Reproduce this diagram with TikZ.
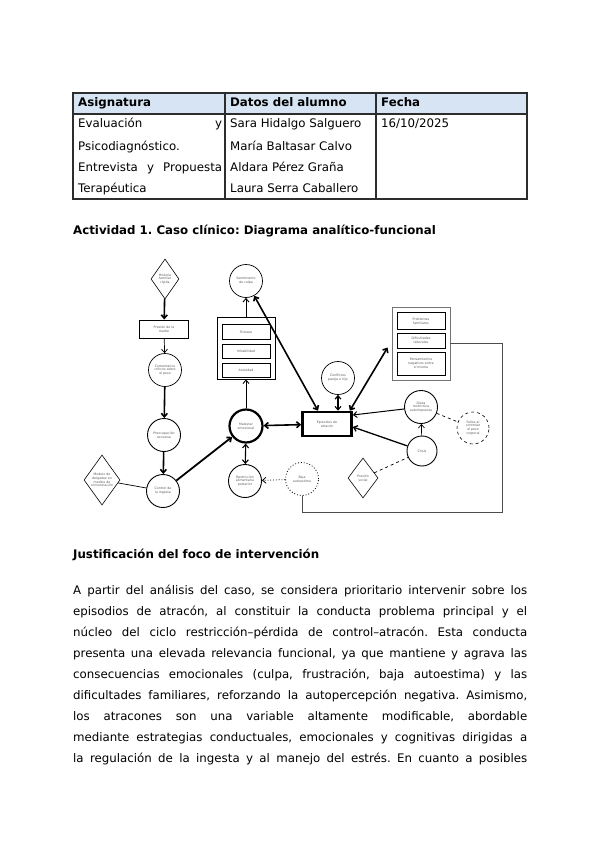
\documentclass[tikz,border=0pt]{standalone}
\usepackage{fontspec}
\setmainfont{DejaVu Sans}
\usetikzlibrary{shapes.geometric,arrows.meta}
\definecolor{cabecera}{RGB}{214,228,243}
\definecolor{borde}{RGB}{45,45,45}
\newcommand\diagfont{\fontsize{3.2}{3.8}\selectfont}
\newcommand\textofont{\fontsize{11.8}{14}\selectfont\frenchspacing}

\begin{document}
\begin{tikzpicture}[x=1pt,y=-1pt,
  tx/.style={font=\diagfont,text=black!65,align=center,inner sep=0pt},
  circulo/.style={circle,draw,line width=0.9pt,minimum size=33pt,tx},
  rombo/.style={diamond,draw,line width=0.6pt,minimum width=28pt,minimum height=40pt,tx},
  caja/.style={rectangle,draw,line width=0.9pt,minimum width=48pt,tx},
  punta/.style={-{Straight Barb[length=3.5pt,width=6pt]}},
  flecha/.style={punta,line width=1.6pt},
  dflecha/.style={{Straight Barb[length=3.5pt,width=6pt]}-{Straight Barb[length=3.5pt,width=6pt]},line width=1.6pt},
  fina/.style={line width=0.7pt},
  linea/.style={anchor=base west,inner sep=0pt,font=\textofont}]
  \useasboundingbox (0,0) rectangle (599,848);
  \fill[white] (0,0) rectangle (599,848);

  \fill[cabecera] (73,93) rectangle (527,114);
  \draw[borde,line width=1.2pt] (73,93) rectangle (527,199) (73,114) -- (527,114) (225,93) -- (225,199) (376,93) -- (376,199);
  \node[linea] (h1) at (78,107) {\bfseries Asignatura};
  \node[linea] (h2) at (230,107) {\bfseries Datos del alumno};
  \node[linea] (h3) at (381,107) {\bfseries Fecha};
  \node[linea] (a1) at (78,128) {\makebox[144pt][s]{Evaluación y}};
  \node[linea] (a2) at (78,150) {Psicodiagnóstico.};
  \node[linea] (a3) at (78,171) {\makebox[144pt][s]{Entrevista y Propuesta}};
  \node[linea] (a4) at (78,192) {Terapéutica};
  \node[linea] (b1) at (230,128) {Sara Hidalgo Salguero};
  \node[linea] (b2) at (230,150) {María Baltasar Calvo};
  \node[linea] (b3) at (230,171) {Aldara Pérez Graña};
  \node[linea] (b4) at (230,192) {Laura Serra Caballero};
  \node[linea] (f1) at (381,128) {16/10/2025};

  \node[linea] (titulo) at (73,234) {\bfseries Actividad 1. Caso clínico: Diagrama analítico-funcional};

  \node[rombo] (d1) at (165,279) {Historia\\familiar\\rígida};
  \node[caja,minimum width=49pt,minimum height=18pt] (r1) at (164,329) {Presión de la\\madre};
  \node[circulo,line width=0.7pt] (c2) at (165,370) {Comentarios\\críticos sobre\\el peso};
  \node[circulo] (c3) at (164,435) {Preocupación\\excesiva};
  \node[circulo] (c4) at (163,491) {Control de\\la ingesta};
  \node[rombo,minimum width=35pt,minimum height=50pt] (d2) at (102,480) {Modelo de\\delgadez en\\medios de\\comunicación};
  \node[circulo,line width=2.2pt] (c5) at (246,426) {Malestar\\emocional};
  \node[draw,line width=0.8pt,minimum width=58pt,minimum height=62pt] (s1) at (246,348) {};
  \node[caja,minimum height=15pt] (s1a) at (246,332) {Tristeza};
  \node[caja,minimum height=14pt] (s1b) at (246,351) {Irritabilidad};
  \node[caja,minimum height=14pt] (s1c) at (246,370) {Ansiedad};
  \node[circulo,line width=0.7pt] (c6) at (246,281) {Sentimiento\\de culpa};
  \node[circulo] (c7) at (245,481) {Restricción\\alimentaria\\posterior};
  \node[circulo,dotted,line width=0.8pt] (c8) at (302,479) {Baja\\autoestima};
  \node[rectangle,draw,line width=2.6pt,minimum width=49pt,minimum height=24pt,tx] (ep) at (327,424) {Episodios de\\atracón};
  \node[circulo,line width=0.7pt] (c9) at (338,378) {Conflictos\\pareja e hijo};
  \node[draw,black!55,line width=0.8pt,minimum width=58pt,minimum height=73pt] (s2) at (421,343.5) {};
  \node[caja,minimum height=17pt] (s2a) at (421,321) {Problemas\\familiares};
  \node[caja,minimum height=15pt] (s2b) at (421,340.5) {Dificultades\\laborales};
  \node[caja,minimum height=23pt] (s2c) at (421,363.5) {Pensamientos\\negativos sobre\\sí misma};
  \node[circulo] (c10) at (421,407) {Dieta\\restrictiva\\autoimpuesta};
  \node[circulo,minimum size=30pt] (c11) at (422,451) {Crisis};
  \node[circulo,dashed,line width=0.6pt,minimum size=32pt] (c12) at (473,428) {Fallos al\\controlar\\el peso\\corporal};
  \node[rombo,minimum width=30pt] (d3) at (363,478) {Presión\\social};
  \coordinate (esq) at (502,512);

  \draw[flecha] (d1) -- (r1);
  \draw[fina,punta] (r1) -- (c2);
  \draw[flecha] (c2) -- (c3);
  \draw[flecha] (c3) -- (c4);
  \draw[fina] (d2) -- (c4);
  \draw[flecha,line width=1.8pt] (c4) -- (c5);
  \draw[punta,line width=0.9pt] (c5) -- (s1);
  \draw[punta,line width=0.9pt] (s1) -- (c6);
  \draw[dflecha] ([xshift=-9pt]ep.north) -- (c6);
  \draw[dflecha] (c5) -- (ep);
  \draw[dflecha,line width=1.1pt] (c5) -- (c7);
  \draw[punta,dotted,line width=0.8pt] (c8) -- (c7);
  \draw[dflecha,line width=1.1pt] (c9.south) -- (c9.south |- ep.north);
  \draw[dflecha] ([xshift=-3pt]ep.north east) -- ([xshift=-4pt,yshift=-4pt]s2.west);
  \draw[punta,line width=1pt] (c10) -- ([yshift=9pt]ep.east);
  \draw[punta,line width=1.3pt] (c11) -- ([yshift=-3pt]ep.east);
  \draw[punta,fina] (c11) -- (c10);
  \draw[dashed,fina] (c10) -- (c12);
  \draw[dashed,fina] (d3) -- (c11);
  \draw[black!70,line width=0.8pt] (c8.south) |- (esq) |- (s2.east);

  \node[linea] (subtitulo) at (73,558) {\bfseries Justificación del foco de intervención};
  \foreach \t [count=\i] in {
    {A partir del análisis del caso, se considera prioritario intervenir sobre los},
    {episodios de atracón, al constituir la conducta problema principal y el},
    {núcleo del ciclo restricción–pérdida de control–atracón. Esta conducta},
    {presenta una elevada relevancia funcional, ya que mantiene y agrava las},
    {consecuencias emocionales (culpa, frustración, baja autoestima) y las},
    {dificultades familiares, reforzando la autopercepción negativa. Asimismo,},
    {los atracones son una variable altamente modificable, abordable},
    {mediante estrategias conductuales, emocionales y cognitivas dirigidas a},
    {la regulación de la ingesta y al manejo del estrés. En cuanto a posibles}}
    \node[linea] (p\i) at (73,573+21*\i) {\makebox[454pt][s]{\t}};
\end{tikzpicture}
\end{document}
